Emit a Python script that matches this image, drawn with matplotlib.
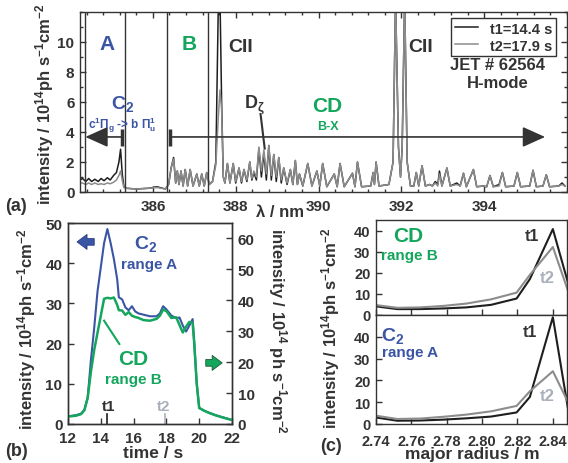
import numpy as np
import matplotlib
matplotlib.use("Agg")
import matplotlib.pyplot as plt

plt.rcParams["font.family"] = ["Liberation Sans", "DejaVu Sans"]
plt.rcParams["font.weight"] = "bold"
plt.rcParams["mathtext.fontset"] = "custom"
plt.rcParams["mathtext.rm"] = "Liberation Sans:bold"
plt.rcParams["mathtext.bf"] = "Liberation Sans:bold"
plt.rcParams["mathtext.it"] = "Liberation Sans:bold:italic"
plt.rcParams["mathtext.default"] = "rm"
plt.rcParams["axes.linewidth"] = 1.0
plt.rcParams["axes.edgecolor"] = "#333333"

BLUE = "#3b55a5"
GREEN = "#14a65c"
BLACK = "#1e1e1e"
GRAY = "#8c8c8c"
LGRAY = "#a9afbb"

# ---- (a) spectrum: wavelength / nm, intensity at t1 and t2
wl = [384.24, 384.30, 384.38, 384.45, 384.52, 384.60, 384.68, 384.75, 384.82, 384.90,
      384.97, 385.05, 385.12, 385.18, 385.22, 385.26, 385.30, 385.35, 385.60, 385.90,
      386.10, 386.30, 386.38, 386.44, 386.50, 386.55, 386.59, 386.63, 386.68, 386.73,
      386.78, 386.84, 386.90, 386.97, 387.06, 387.12, 387.18, 387.24, 387.30, 387.36,
      387.44, 387.52, 387.58, 387.62, 387.66, 387.70, 387.74, 387.80, 387.86, 387.94,
      388.00, 388.08, 388.14, 388.20, 388.27, 388.34, 388.39, 388.44, 388.50, 388.56,
      388.62, 388.68, 388.74, 388.80, 388.86, 388.92, 388.98, 389.04, 389.10, 389.16,
      389.24, 389.32, 389.38, 389.44, 389.49, 389.54, 389.62, 389.74, 389.84, 389.96,
      390.03, 390.10, 390.20, 390.38, 390.45, 390.52, 390.62, 390.82, 390.88, 390.94,
      391.04, 391.26, 391.32, 391.35, 391.39, 391.46, 391.70, 391.80, 391.86, 391.93,
      391.98, 392.02, 392.08, 392.14, 392.22, 392.30, 392.36, 392.42, 392.50, 392.58,
      392.68, 392.75, 392.82, 392.88, 392.92, 392.98, 393.10, 393.18, 393.34, 393.42,
      393.50, 393.57, 393.74, 393.82, 393.98, 394.06, 394.14, 394.22, 394.36, 394.44,
      394.52, 394.72, 394.80, 394.88, 395.10, 395.18, 395.26, 395.42, 395.50, 395.58,
      395.80, 395.88, 395.95]
spec_t1 = [0.8, 0.9, 0.7, 0.9, 0.7, 0.85, 0.7, 0.9, 0.75, 0.95,
           0.8, 1.1, 1.3, 2.0, 2.85, 1.2, 0.35, 0.25, 0.2, 0.25,
           0.35, 0.2, 0.5, 1.6, 2.3, 0.6, 1.4, 0.5, 1.4, 0.4,
           1.5, 0.4, 1.5, 0.4, 1.2, 0.4, 1.2, 0.4, 1.3, 0.5,
           0.7, 2.0, 12.5, 13.0, 6.0, 1.0, 0.6, 1.9, 0.6, 1.9,
           0.6, 1.6, 0.6, 1.5, 0.7, 2.0, 0.8, 1.3, 0.8, 2.9,
           1.0, 2.6, 0.8, 3.1, 0.8, 2.5, 0.7, 2.3, 0.6, 1.6,
           0.5, 1.5, 0.5, 2.1, 0.5, 1.2, 0.4, 1.9, 0.4, 1.4,
           0.4, 1.9, 0.35, 1.2, 0.35, 1.9, 0.35, 1.25, 0.35, 2.0,
           0.35, 0.4, 1.3, 0.5, 2.0, 0.4, 0.5, 2.0, 13.0, 3.0,
           1.0, 3.0, 13.0, 2.0, 0.4, 0.4, 1.3, 0.4, 1.75, 0.4,
           0.5, 0.4, 0.7, 0.5, 1.4, 0.4, 1.6, 0.4, 0.6, 0.4,
           1.25, 0.35, 1.5, 0.35, 0.4, 0.35, 1.1, 0.35, 0.5, 1.3,
           0.35, 0.4, 1.3, 0.35, 0.4, 1.45, 0.35, 0.4, 1.15, 0.35,
           0.4, 0.6, 0.4]
spec_t2 = [0.6, 0.6, 0.5, 0.6, 0.5, 0.6, 0.5, 0.55, 0.5, 0.6,
           0.55, 0.65, 0.8, 1.1, 1.4, 0.8, 0.3, 0.25, 0.2, 0.25,
           0.3, 0.2, 0.5, 1.6, 2.2, 0.6, 1.4, 0.5, 1.4, 0.4,
           1.5, 0.4, 1.5, 0.4, 1.2, 0.4, 1.2, 0.4, 1.3, 0.5,
           0.7, 1.8, 5.0, 6.8, 5.5, 1.0, 0.6, 1.9, 0.6, 1.9,
           0.7, 1.6, 0.7, 1.5, 0.8, 2.0, 0.9, 1.4, 1.0, 3.0,
           1.4, 2.8, 1.2, 3.1, 1.1, 2.5, 1.0, 2.3, 0.8, 1.6,
           0.6, 1.5, 0.5, 2.1, 0.5, 1.2, 0.4, 1.9, 0.4, 1.4,
           0.4, 1.9, 0.35, 1.2, 0.35, 1.9, 0.35, 1.25, 0.35, 2.0,
           0.35, 0.4, 1.3, 0.5, 2.0, 0.4, 0.5, 2.0, 13.0, 3.0,
           1.0, 3.0, 13.0, 2.0, 0.4, 0.4, 1.3, 0.4, 1.75, 0.4,
           0.5, 0.4, 0.6, 0.4, 1.2, 0.4, 1.6, 0.4, 0.5, 0.4,
           1.25, 0.35, 1.5, 0.35, 0.4, 0.35, 1.1, 0.35, 0.4, 1.3,
           0.35, 0.4, 1.3, 0.35, 0.4, 1.45, 0.35, 0.4, 1.15, 0.35,
           0.4, 0.5, 0.4]
range_edges = [384.36, 385.32, 386.35, 387.34]

# ---- (b) time traces
time_s = [12.0, 12.5, 12.8, 13.0, 13.2, 13.4, 13.6, 13.8, 14.0, 14.2,
          14.4, 14.6, 14.8, 15.0, 15.1, 15.3, 15.5, 15.7, 15.9, 16.1,
          16.3, 16.6, 17.0, 17.4, 17.6, 17.8, 18.0, 18.3, 18.6, 18.8,
          19.0, 19.2, 19.4, 19.6, 19.7, 19.85, 20.0, 20.3, 20.6, 21.0,
          21.5, 22.0]
c2_rangeA = [1.9, 2.2, 2.6, 3.5, 6.5, 16, 24, 33, 39, 45,
             48.5, 45, 41, 36, 31.5, 31, 29, 28.3, 29.3, 28,
             27.5, 27.2, 26.8, 26.8, 27.5, 29.3, 28.5, 27, 26.3, 26.5,
             24.5, 23, 24.5, 26.1, 20, 10, 4.0, 3.3, 2.8, 2.2,
             1.6, 1.0]
cd_rangeB = [2.4, 2.7, 3.2, 4.5, 8.5, 17, 24, 29.5, 35, 40.5,
             40.8, 40.6, 40.9, 38.5, 36.8, 36.7, 35.3, 36.2, 35, 34.6,
             34.3, 33.6, 33.4, 34, 35, 37, 36.5, 34.3, 34.5, 32,
             29.6, 31.5, 33, 32.7, 26, 13, 5.2, 4.3, 3.6, 2.8,
             2.0, 1.3]
t1_time = 14.4
t2_time = 17.9

# ---- (c) radial profiles
radius = [2.740, 2.752, 2.765, 2.778, 2.791, 2.805, 2.8195, 2.827, 2.840, 2.850]
cd_t1 = [4.1, 2.8, 2.8, 3.1, 3.6, 4.8, 7.8, 17.0, 40.7, 11.0]
cd_t2 = [4.7, 3.4, 3.6, 4.3, 5.4, 7.4, 10.6, 19.0, 32.2, 8.0]
c2_t1 = [3.0, 1.5, 1.6, 2.0, 2.6, 3.4, 5.3, 12.4, 49.0, 0.0]
c2_t2 = [3.8, 2.3, 2.5, 3.3, 4.3, 5.8, 8.3, 15.0, 24.2, 7.7]

ylab = r"intensity / 10$^{14}$ph s$^{-1}$cm$^{-2}$"
INK = "#333333"

fig = plt.figure(figsize=(5.68, 4.64), dpi=100)
W, H = 568.0, 464.0


def fx(px):
    return px / W


def fy(py):
    return 1 - py / H


def style(ax, size=11):
    ax.tick_params(direction="in", which="both", labelsize=size, width=1, colors=INK,
                   labelcolor=INK)
    ax.tick_params(axis="x", pad=5)
    ax.tick_params(axis="y", pad=4)
    ax.tick_params(which="major", length=4)
    ax.tick_params(which="minor", length=2.5)


# ---------------- (a)
axa = fig.add_axes([fx(80), fy(193), fx(567) - fx(80), fy(13) - fy(193)])
axa.plot(wl, spec_t1, color=BLACK, lw=1.1, label="t1=14.4 s")
axa.plot(wl, spec_t2, color=GRAY, lw=1.1, label="t2=17.9 s")
for e in range_edges:
    axa.axvline(e, color=INK, lw=1.0)
axa.set_xlim(384.24, 395.93)
axa.set_ylim(0, 12)
axa.set_xticks([386, 388, 390, 392, 394])
axa.set_xticks(np.arange(384.4, 396, 0.4), minor=True)
axa.set_yticks([0, 2, 4, 6, 8, 10])
axa.set_yticks(np.arange(0, 12.5, 1), minor=True)
style(axa)
axa.tick_params(top=True, right=True, which="both")

# arrows and bars
arr_y = 3.67
for tail, tip in [(385.25, 384.37), (386.42, 395.47)]:
    axa.annotate("", xy=(tip, arr_y), xytext=(tail, arr_y),
                 arrowprops=dict(arrowstyle="-|>,head_length=1.0,head_width=0.45",
                                 color=INK, lw=1.2, mutation_scale=14, shrinkA=0, shrinkB=0))
    axa.plot([tail, tail], [3.1, 4.2], color=INK, lw=2.5, solid_capstyle="butt")

axa.text(384.89, 9.9, "A", color=BLUE, fontsize=15, ha="center", va="center")
axa.text(386.88, 9.9, "B", color=GREEN, fontsize=15, ha="center", va="center")
axa.text(388.12, 9.7, "CII", color=INK, fontsize=14, ha="center", va="center")
axa.text(392.47, 9.7, "CII", color=INK, fontsize=14, ha="center", va="center")
axa.text(385.27, 5.95, r"C$_2$", color=BLUE, fontsize=14, ha="center", va="center")
axa.text(385.27, 4.5, r"c$^1$Π$_g$ -> b Π$^1_u$", color=BLUE, fontsize=8.5,
         ha="center", va="center")
axa.text(388.46, 5.9, r"D$_ζ$", color=INK, fontsize=13, ha="center", va="center")
axa.plot([388.6, 388.7], [5.2, 2.9], color=INK, lw=1.5)
axa.text(390.22, 5.75, "CD", color=GREEN, fontsize=15, ha="center", va="center")
axa.text(390.22, 4.4, "B-X", color=GREEN, fontsize=9, ha="center", va="center")
axa.text(394.32, 8.47, "JET # 62564", color=INK, fontsize=12, ha="center", va="center")
axa.text(394.32, 7.27, "H-mode", color=INK, fontsize=12, ha="center", va="center")
leg = axa.legend(loc="upper right", bbox_to_anchor=(0.977, 0.967), fontsize=10.5,
                 frameon=True, fancybox=False, edgecolor=INK, framealpha=1,
                 handlelength=1.6, borderpad=0.25, labelspacing=0.2, handletextpad=0.8,
                 borderaxespad=0)
leg.get_frame().set_linewidth(1.0)
for t in leg.get_texts():
    t.set_color(INK)

fig.text(fx(5), fy(207), "(a)", fontsize=13, color=INK, va="center")
fig.text(fx(280), fy(213), "λ / nm", fontsize=12, color=INK, ha="center", va="center")
fig.text(fx(45), fy(104), ylab, fontsize=12, color=INK, rotation=90,
         ha="center", va="center")

# ---------------- (b)
axb = fig.add_axes([fx(68), fy(425), fx(232) - fx(68), fy(224) - fy(425)])
axb2 = axb.twinx()
axb.plot(time_s, c2_rangeA, color=BLUE, lw=1.5)
axb2.plot(time_s, cd_rangeB, color=GREEN, lw=1.8)
axb.set_xlim(12, 22)
axb.set_ylim(0, 50)
axb2.set_ylim(0, 65)
axb.set_xticks([12, 14, 16, 18, 20, 22])
axb.set_yticks([0, 10, 20, 30, 40, 50])
axb2.set_yticks([0, 10, 20, 30, 40, 50, 60])
style(axb)
style(axb2)
axb.plot([t1_time, t1_time], [0, 2.6], color=BLACK, lw=1.2)
axb.plot([t2_time, t2_time], [0, 2.6], color=LGRAY, lw=1.2)
axb.text(14.5, 4.6, "t1", color=INK, fontsize=11, ha="center", va="center")
axb.text(17.85, 4.6, "t2", color=LGRAY, fontsize=11, ha="center", va="center")
axb.text(16.76, 45, r"C$_2$", color=BLUE, fontsize=14, ha="center", va="center")
axb.text(16.94, 39.8, "range A", color=BLUE, fontsize=11, ha="center", va="center")
axb.text(16.0, 16.2, "CD", color=GREEN, fontsize=15, ha="center", va="center")
axb.text(16.0, 11.2, "range B", color=GREEN, fontsize=11, ha="center", va="center")
axb.plot([14.2, 15.13], [25.7, 19.9], color=GREEN, lw=1.5)
axb.annotate("", xy=(12.55, 45.3), xytext=(13.6, 45.3),
             arrowprops=dict(arrowstyle="simple,head_width=0.9,head_length=0.6,tail_width=0.4",
                             fc=BLUE, ec="#2a3f80", lw=0.6, mutation_scale=12,
                             shrinkA=0, shrinkB=0))
axb.annotate("", xy=(21.4, 15.2), xytext=(20.4, 15.2),
             arrowprops=dict(arrowstyle="simple,head_width=0.9,head_length=0.6,tail_width=0.4",
                             fc=GREEN, ec="#1d5a34", lw=0.6, mutation_scale=12,
                             shrinkA=0, shrinkB=0))

fig.text(fx(5), fy(452), "(b)", fontsize=13, color=INK, va="center")
fig.text(fx(153), fy(454), "time / s", fontsize=12.5, color=INK, ha="center", va="center")
fig.text(fx(27), fy(329), ylab, fontsize=12, color=INK, rotation=90,
         ha="center", va="center")
fig.text(fx(277), fy(331), r"intensity / 10$^{14}$ ph s$^{-1}$cm$^{-2}$", fontsize=12,
         color=INK, rotation=270, ha="center", va="center")

# ---------------- (c)
axc1 = fig.add_axes([fx(376), fy(316), fx(567) - fx(376), fy(221) - fy(316)])
axc2 = fig.add_axes([fx(376), fy(425), fx(567) - fx(376), fy(316) - fy(425)], sharex=axc1)
axc1.plot(radius, cd_t1, color=BLACK, lw=1.5)
axc1.plot(radius, cd_t2, color=GRAY, lw=1.5)
axc2.plot(radius, c2_t1, color=BLACK, lw=1.5)
axc2.plot(radius, c2_t2, color=GRAY, lw=1.5)
axc1.set_xlim(2.74, 2.848)
axc1.set_ylim(0, 45)
axc2.set_ylim(0, 50)
axc1.set_yticks([0, 10, 20, 30, 40])
axc2.set_yticks([0, 10, 20, 30, 40])
axc2.set_xticks([2.74, 2.76, 2.78, 2.80, 2.82, 2.84])
axc2.set_xticklabels(["2.74", "2.76", "2.78", "2.80", "2.82", "2.84"])
style(axc1, 10.5)
style(axc2, 10.5)
axc2.tick_params(axis="x", pad=7)
axc1.tick_params(labelbottom=False)

axc1.text(2.758, 37.6, "CD", color=GREEN, fontsize=15, ha="center", va="center")
axc1.text(2.7586, 28.2, "range B", color=GREEN, fontsize=11, ha="center", va="center")
axc1.text(2.828, 37.6, "t1", color=INK, fontsize=11.5, ha="center", va="center")
axc1.text(2.8366, 17.8, "t2", color=LGRAY, fontsize=12, ha="center", va="center")
axc2.text(2.7496, 40.6, r"C$_2$", color=BLUE, fontsize=14, ha="center", va="center")
axc2.text(2.759, 33, "range A", color=BLUE, fontsize=11, ha="center", va="center")
axc2.text(2.827, 42.5, "t1", color=INK, fontsize=11.5, ha="center", va="center")
axc2.text(2.8366, 13.2, "t2", color=LGRAY, fontsize=12, ha="center", va="center")

fig.text(fx(331), fy(447), "(c)", fontsize=13, color=INK, ha="center", va="center")
fig.text(fx(472), fy(455), "major radius / m", fontsize=12.5, color=INK,
         ha="center", va="center")
fig.text(fx(331), fy(328), ylab, fontsize=12, color=INK, rotation=90,
         ha="center", va="center")

fig.savefig("out.png", dpi=100)
